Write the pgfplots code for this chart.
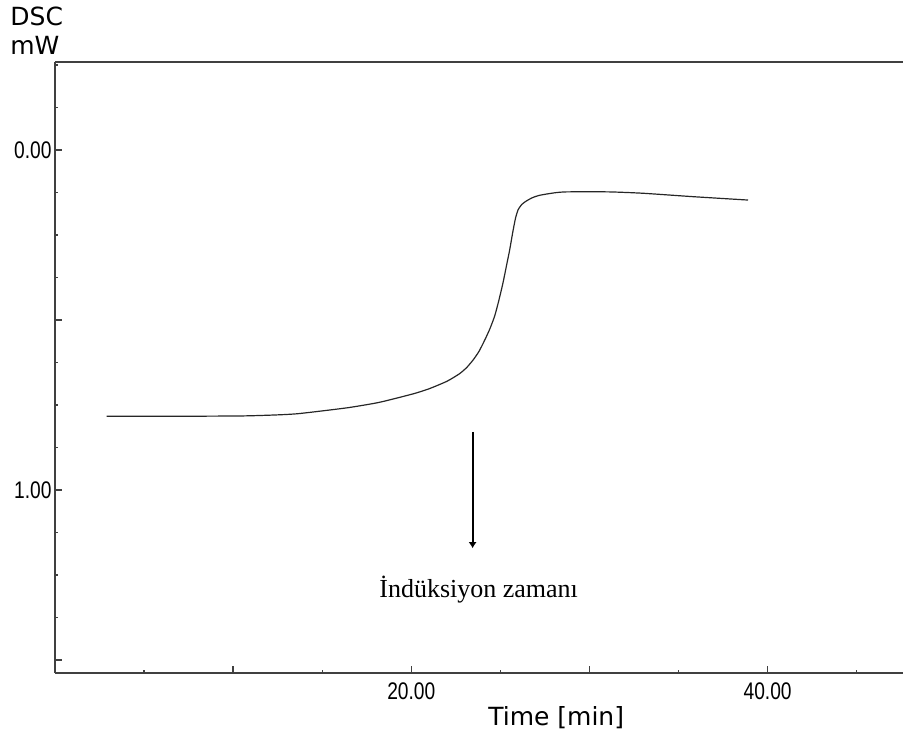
\documentclass[border=0pt]{standalone}
\usepackage{fontspec}
\setmainfont{Liberation Serif}
\newfontfamily\dejavu{DejaVu Sans}
\newfontfamily\narrow[FakeStretch=0.8]{Liberation Sans}
\usepackage{pgfplots}
\pgfplotsset{compat=1.18}
\usetikzlibrary{arrows.meta}

\begin{document}
\begin{tikzpicture}
\useasboundingbox (-27.5pt,-33pt) rectangle (424pt,336.5pt);
\begin{axis}[
  scale only axis,
  width=424pt,
  height=305.5pt,
  xmin=0, xmax=47.6,
  ymin=-0.259, ymax=1.538,
  y dir=reverse,
  clip mode=individual,
  axis x line=box,
  axis y line=left,
  axis line style={-, black!75, line width=0.9pt},
  tick align=inside,
  xtick pos=bottom,
  ytick pos=left,
  xtick={10,20,30,40},
  xticklabels={,20.00,,40.00},
  minor xtick={5,15,25,35,45},
  ytick={0,0.5,1,1.5},
  yticklabels={0.00,,1.00,},
  minor ytick={-0.25,-0.125,0.125,0.25,0.375,0.625,0.75,0.875,1.125,1.25,1.375},
  major tick length=3.5pt,
  minor tick length=1.6pt,
  every tick/.style={black!75, line width=0.7pt},
  /pgf/number format/assume math mode=true,
  ticklabel style={font=\narrow\fontsize{12}{14}\selectfont, inner sep=0pt},
  xticklabel style={anchor=north, yshift=-4.5pt},
  yticklabel style={anchor=east, xshift=-1.5pt},
  xlabel={Time [min]},
  xlabel style={at={(axis description cs:0.591,0)}, anchor=center, yshift=-22.5pt,
    font=\dejavu\fontsize{12.5}{15}\selectfont},
]
\addplot[black!85, line width=0.6pt, smooth, tension=0.35] coordinates {
  (2.9,0.783) (6,0.783) (10.4,0.782) (12.4,0.779) (13.7,0.775)
  (16.4,0.758) (18.2,0.742) (20.1,0.717) (21.0,0.702) (22.0,0.680)
  (22.7,0.658) (23.1,0.640) (23.46,0.618) (23.8,0.592) (24.12,0.559)
  (24.4,0.527) (24.68,0.488) (24.9,0.445) (25.14,0.392)
  (25.35,0.338) (25.52,0.294) (25.7,0.240) (25.85,0.200) (26.0,0.175)
  (26.2,0.160) (26.45,0.150) (26.8,0.140)
  (27.2,0.133) (28.0,0.126) (28.7,0.123) (31.1,0.123) (33.0,0.127) (35.8,0.137)
  (38.9,0.147)
};
\draw[-{Latex[length=3pt,width=4pt]}, line width=1pt, black]
  (axis cs:23.44,0.829) -- (axis cs:23.44,1.171);
\node[anchor=base, font=\fontsize{13}{15}\selectfont] at (axis cs:23.78,1.315) {İndüksiyon zamanı};
\node[anchor=base west, inner sep=0pt, xshift=-22.5pt, yshift=18.5pt, font=\dejavu\fontsize{12.5}{15}\selectfont]
  at (axis description cs:0,1) {DSC};
\node[anchor=base west, inner sep=0pt, xshift=-22.5pt, yshift=4pt, font=\dejavu\fontsize{12.5}{15}\selectfont]
  at (axis description cs:0,1) {mW};
\end{axis}
\end{tikzpicture}
\end{document}
